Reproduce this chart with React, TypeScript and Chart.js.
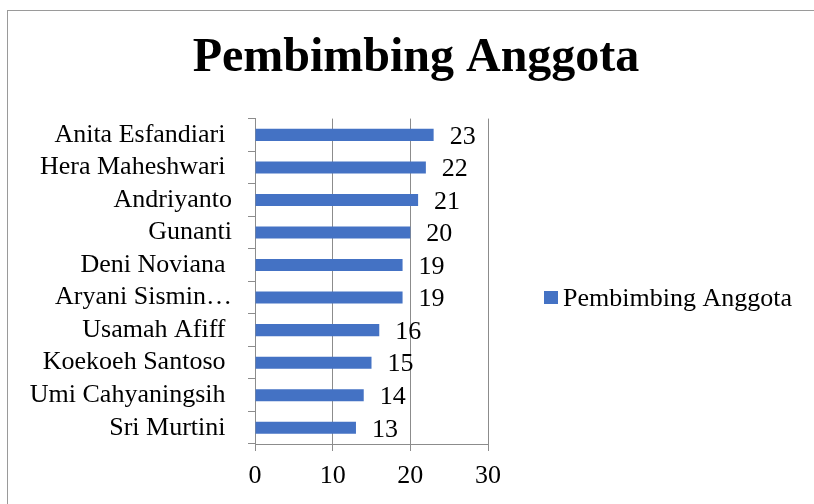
import React, { useEffect, useRef } from "react";
import { Chart, registerables } from "chart.js";

Chart.register(...registerables);

const categories = [
  "Anita Esfandiari ",
  "Hera Maheshwari ",
  "Andriyanto",
  "Gunanti",
  "Deni Noviana ",
  "Aryani Sismin…",
  "Usamah Afiff ",
  "Koekoeh Santoso ",
  "Umi Cahyaningsih ",
  "Sri Murtini ",
];
const values = [23, 22, 21, 20, 19, 19, 16, 15, 14, 13];
const seriesName = "Pembimbing Anggota";
const chartTitle = "Pembimbing Anggota";
const xMin = 0;
const xMax = 30;
const xStep = 10;

const FONT = "'Liberation Serif', 'Times New Roman', serif";
const BAR = "#4472C4";
const GRID = "#8c8c8c";

const framePlugin = {
  id: "frame",
  beforeDraw(chart: any) {
    const ctx = chart.ctx;
    ctx.save();
    ctx.strokeStyle = "#9a9a9a";
    ctx.lineWidth = 1;
    ctx.strokeRect(0.5, 0.5, chart.width + 20, chart.height + 20);
    ctx.restore();
  },
};

const dataLabelPlugin = {
  id: "dataLabels",
  afterDatasetsDraw(chart: any) {
    const ctx = chart.ctx;
    ctx.save();
    ctx.font = `26px ${FONT}`;
    ctx.fillStyle = "#000";
    ctx.textAlign = "left";
    ctx.textBaseline = "middle";
    chart.data.datasets.forEach((ds: any, di: number) => {
      const meta = chart.getDatasetMeta(di);
      meta.data.forEach((el: any, i: number) => {
        ctx.fillText(String(ds.data[i]), el.x + 16, el.y + 2);
      });
    });
    ctx.restore();
  },
};

const legendPlugin = {
  id: "customLegend",
  afterDraw(chart: any) {
    const ctx = chart.ctx;
    const ds = chart.data.datasets[0];
    const area = chart.chartArea;
    const x = area.right + 56;
    const y = 288;
    ctx.save();
    ctx.fillStyle = ds.backgroundColor;
    ctx.fillRect(x, y - 7, 14, 13);
    ctx.font = `26px ${FONT}`;
    ctx.fillStyle = "#000";
    ctx.textAlign = "left";
    ctx.textBaseline = "middle";
    ctx.fillText(ds.label, x + 19, y + 1);
    ctx.restore();
  },
};

export default function App() {
  const ref = useRef<HTMLCanvasElement | null>(null);

  useEffect(() => {
    if (!ref.current) return;
    const chart = new Chart(ref.current, {
      type: "bar",
      data: {
        labels: categories,
        datasets: [
          {
            label: seriesName,
            data: values,
            backgroundColor: BAR,
            borderWidth: 0,
            categoryPercentage: 1,
            barPercentage: 0.37,
          },
        ],
      },
      options: {
        indexAxis: "y",
        responsive: false,
        animation: false,
        layout: { padding: 0 },
        plugins: {
          legend: { display: false },
          tooltip: { enabled: false },
          title: {
            display: true,
            text: chartTitle,
            color: "#000",
            font: { family: FONT, size: 48, weight: "bold" },
            padding: { top: 20, bottom: 31 },
          },
        },
        scales: {
          x: {
            type: "linear",
            min: xMin,
            max: xMax,
            ticks: {
              stepSize: xStep,
              color: "#000",
              font: { family: FONT, size: 26 },
              padding: 10,
            },
            grid: { color: GRID, lineWidth: 1, tickLength: 7, drawTicks: true },
            border: { color: GRID, width: 1 },
            afterFit: (scale: any) => {
              scale.height = 60;
            },
          },
          y: {
            type: "category",
            offset: true,
            ticks: {
              autoSkip: false,
              color: "#000",
              font: { family: FONT, size: 26 },
              padding: 16,
            },
            grid: {
              offset: true,
              drawOnChartArea: false,
              drawTicks: true,
              tickLength: 7,
              color: GRID,
              lineWidth: 1,
            },
            border: { color: GRID, width: 1 },
            afterFit: (scale: any) => {
              scale.width = 248;
            },
          },
          legendSpace: {
            type: "category",
            position: "right",
            display: true,
            ticks: { display: false },
            grid: { display: false, drawTicks: false },
            border: { display: false },
            afterFit: (scale: any) => {
              scale.width = 337;
            },
          },
        },
      },
      plugins: [framePlugin, dataLabelPlugin, legendPlugin],
    } as any);
    return () => chart.destroy();
  }, []);

  return (
    <div
      style={{
        position: "fixed",
        left: 0,
        top: 0,
        width: 814,
        height: 504,
        overflow: "hidden",
        background: "#fff",
      }}
    >
      <canvas
        ref={ref}
        width={818}
        height={494}
        style={{ position: "absolute", left: 7, top: 10, width: 818, height: 494 }}
      />
    </div>
  );
}
